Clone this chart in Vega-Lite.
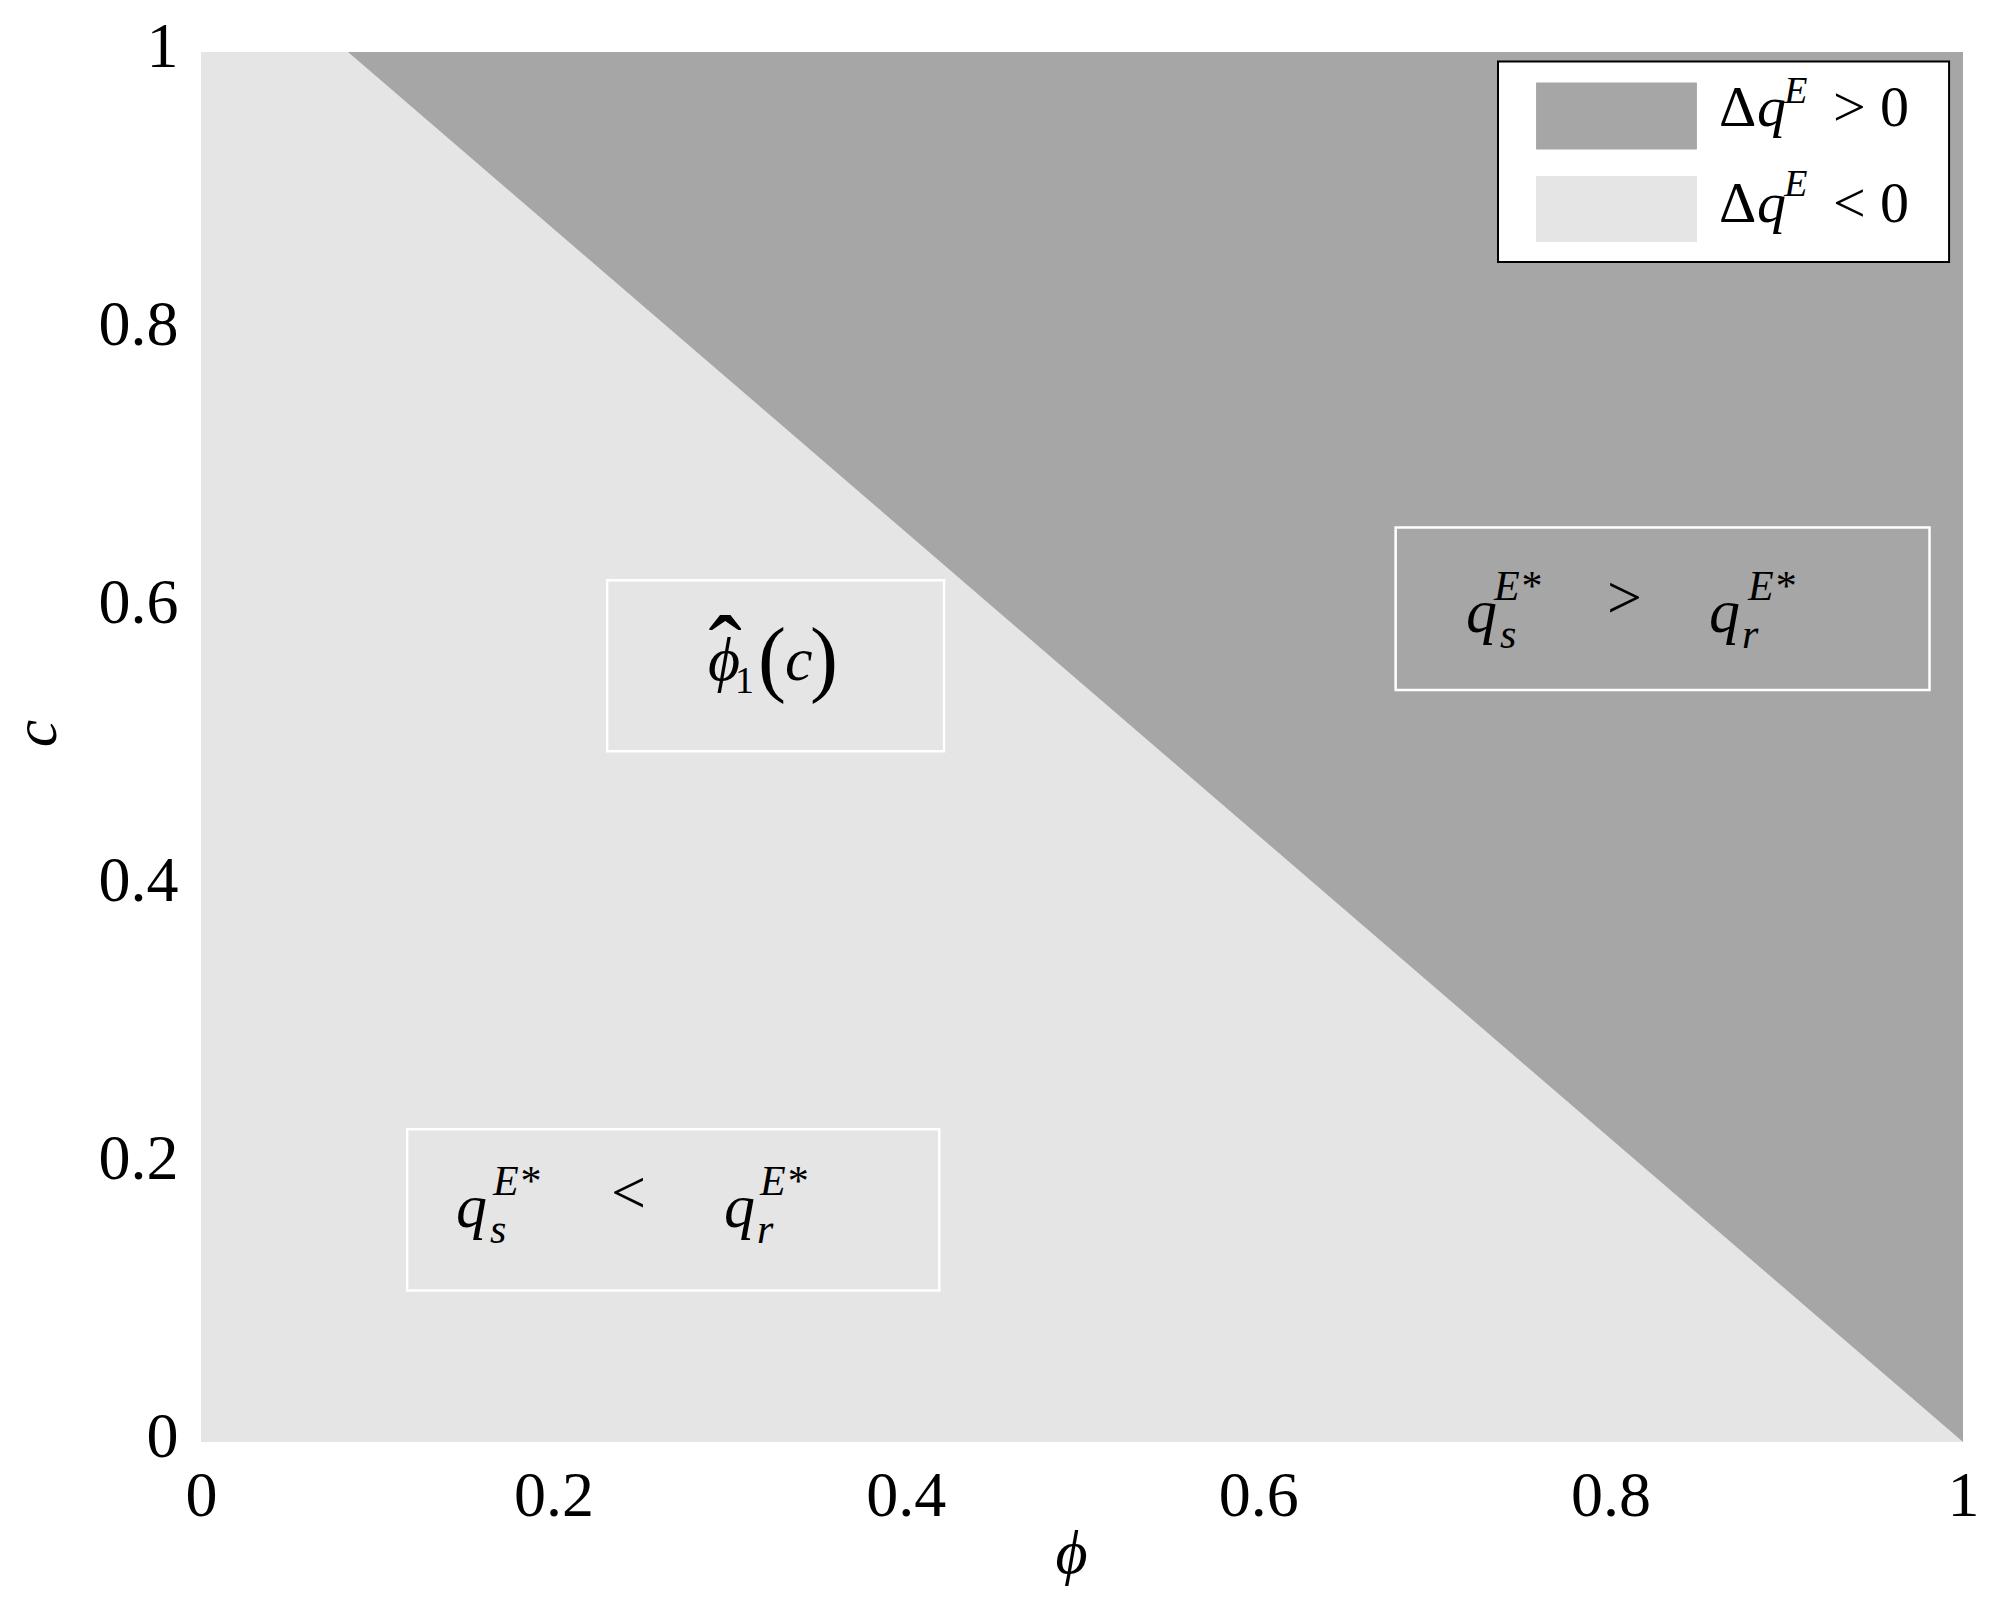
{
  "$schema": "https://vega.github.io/schema/vega-lite/v6.json",
  "width": 1762,
  "height": 1390,
  "autosize": {"type": "none"},
  "padding": {"left": 201, "top": 52, "right": 37, "bottom": 165},
  "background": "white",
  "config": {
    "view": {"stroke": null},
    "axis": {
      "grid": false, "domain": false, "ticks": false, "tickSize": 0,
      "labelFont": "Times New Roman, Liberation Serif, serif", "labelFontSize": 64, "labelColor": "black",
      "labelFlush": false, "labelOverlap": false,
      "titleFont": "Times New Roman, Liberation Serif, serif", "titleFontSize": 62, "titleFontStyle": "italic",
      "titleFontWeight": "normal", "titleColor": "black"
    },
    "text": {"font": "Times New Roman, Liberation Serif, serif", "color": "black", "align": "left", "baseline": "alphabetic"}
  },
  "datasets": {
    "bound": [{"phi": 0, "c": 1}, {"phi": 0.0834, "c": 1}, {"phi": 1, "c": 0}],
    "boxes": [
      {"x1": 0.2305, "x2": 0.4217, "y1": 0.497, "y2": 0.62},
      {"x1": 0.678, "x2": 0.981, "y1": 0.541, "y2": 0.658},
      {"x1": 0.117, "x2": 0.419, "y1": 0.109, "y2": 0.225}
    ],
    "bigItalic": [
      {"phi": 0.7179, "c": 0.5827, "t": "q"},
      {"phi": 0.8558, "c": 0.5827, "t": "q"},
      {"phi": 0.1447, "c": 0.1547, "t": "q"},
      {"phi": 0.2968, "c": 0.1547, "t": "q"},
      {"phi": 0.2877, "c": 0.5482, "t": "ϕ"},
      {"phi": 0.3314, "c": 0.5482, "t": "c"}
    ],
    "smallItalic": [
      {"phi": 0.7372, "c": 0.5712, "t": "s"},
      {"phi": 0.7338, "c": 0.6058, "t": "E*"},
      {"phi": 0.8746, "c": 0.5712, "t": "r"},
      {"phi": 0.878, "c": 0.6058, "t": "E*"},
      {"phi": 0.164, "c": 0.1432, "t": "s"},
      {"phi": 0.1657, "c": 0.1777, "t": "E*"},
      {"phi": 0.3156, "c": 0.1432, "t": "r"},
      {"phi": 0.3173, "c": 0.1777, "t": "E*"}
    ],
    "relation": [
      {"phi": 0.798, "c": 0.5928, "t": ">"},
      {"phi": 0.2327, "c": 0.1647, "t": "<"}
    ],
    "sub1": [{"phi": 0.3031, "c": 0.5388, "t": "1"}],
    "paren": [
      {"phi": 0.3161, "c": 0.5439, "t": "("},
      {"phi": 0.3456, "c": 0.5439, "t": ")"}
    ],
    "hat": [{"phi": 0.2975, "c": 0.5446, "t": "ˆ"}],
    "legendBox": [{"x1": 0.7361, "x2": 0.9921, "y1": 0.8489, "y2": 0.9931}],
    "swatch": [
      {"x1": 0.7577, "x2": 0.849, "y1": 0.9299, "y2": 0.978, "region": "Δq^E > 0"},
      {"x1": 0.7577, "x2": 0.849, "y1": 0.8633, "y2": 0.9108, "region": "Δq^E < 0"}
    ],
    "legUp": [
      {"phi": 0.8615, "c": 0.9468, "t": "Δ"},
      {"phi": 0.8615, "c": 0.8777, "t": "Δ"},
      {"phi": 0.9262, "c": 0.9468, "t": ">"},
      {"phi": 0.9262, "c": 0.8777, "t": "<"},
      {"phi": 0.9529, "c": 0.9468, "t": "0"},
      {"phi": 0.9529, "c": 0.8777, "t": "0"}
    ],
    "legIt": [
      {"phi": 0.8831, "c": 0.9468, "t": "q"},
      {"phi": 0.8831, "c": 0.8777, "t": "q"}
    ],
    "legSup": [
      {"phi": 0.8985, "c": 0.9633, "t": "E"},
      {"phi": 0.8985, "c": 0.8964, "t": "E"}
    ]
  },
  "layer": [
    {
      "data": {"name": "bound"},
      "mark": {"type": "area", "color": "#e5e5e5"},
      "encoding": {
        "x": {"field": "phi", "type": "quantitative",
          "scale": {"domain": [0, 1], "nice": false, "zero": false},
          "axis": {"values": [0, 0.2, 0.4, 0.6, 0.8, 1], "format": "~g",
            "labelPadding": 73, "labelBaseline": "alphabetic",
            "title": "ϕ", "titleX": 870, "titleY": 130, "titleBaseline": "alphabetic", "titleAlign": "center"}},
        "y": {"field": "c", "type": "quantitative",
          "scale": {"domain": [0, 1], "nice": false, "zero": false},
          "axis": {"values": [0, 0.2, 0.4, 0.6, 0.8, 1], "format": "~g",
            "labelPadding": 23, "labelBaseline": "middle", "labelOffset": -5,
            "title": "c", "titleAngle": -90, "titleX": -146, "titleY": 681, "titleBaseline": "alphabetic", "titleAlign": "center"}},
        "y2": {"datum": 0}
      }
    },
    {
      "data": {"name": "bound"},
      "transform": [{"filter": "datum.phi >= 0.08"}],
      "mark": {"type": "area", "color": "#a6a6a6"},
      "encoding": {
        "x": {"field": "phi", "type": "quantitative"},
        "y": {"field": "c", "type": "quantitative"},
        "y2": {"datum": 1}
      }
    },
    {
      "data": {"name": "boxes"},
      "mark": {"type": "rect", "fillOpacity": 0, "stroke": "#ffffff", "strokeWidth": 2.5},
      "encoding": {
        "x": {"field": "x1", "type": "quantitative"}, "x2": {"field": "x2"},
        "y": {"field": "y1", "type": "quantitative"}, "y2": {"field": "y2"}
      }
    },
    {
      "data": {"name": "bigItalic"},
      "mark": {"type": "text", "fontSize": 62, "fontStyle": "italic"},
      "encoding": {"x": {"field": "phi", "type": "quantitative"}, "y": {"field": "c", "type": "quantitative"}, "text": {"field": "t"}}
    },
    {
      "data": {"name": "smallItalic"},
      "mark": {"type": "text", "fontSize": 42, "fontStyle": "italic"},
      "encoding": {"x": {"field": "phi", "type": "quantitative"}, "y": {"field": "c", "type": "quantitative"}, "text": {"field": "t"}}
    },
    {
      "data": {"name": "relation"},
      "mark": {"type": "text", "fontSize": 62},
      "encoding": {"x": {"field": "phi", "type": "quantitative"}, "y": {"field": "c", "type": "quantitative"}, "text": {"field": "t"}}
    },
    {
      "data": {"name": "sub1"},
      "mark": {"type": "text", "fontSize": 38},
      "encoding": {"x": {"field": "phi", "type": "quantitative"}, "y": {"field": "c", "type": "quantitative"}, "text": {"field": "t"}}
    },
    {
      "data": {"name": "paren"},
      "mark": {"type": "text", "fontSize": 84},
      "encoding": {"x": {"field": "phi", "type": "quantitative"}, "y": {"field": "c", "type": "quantitative"}, "text": {"field": "t"}}
    },
    {
      "data": {"name": "hat"},
      "mark": {"type": "text", "fontSize": 100, "align": "center"},
      "encoding": {"x": {"field": "phi", "type": "quantitative"}, "y": {"field": "c", "type": "quantitative"}, "text": {"field": "t"}}
    },
    {
      "data": {"name": "legendBox"},
      "mark": {"type": "rect", "fill": "white", "stroke": "black", "strokeWidth": 2},
      "encoding": {
        "x": {"field": "x1", "type": "quantitative"}, "x2": {"field": "x2"},
        "y": {"field": "y1", "type": "quantitative"}, "y2": {"field": "y2"}
      }
    },
    {
      "data": {"name": "swatch"},
      "mark": {"type": "rect"},
      "encoding": {
        "x": {"field": "x1", "type": "quantitative"}, "x2": {"field": "x2"},
        "y": {"field": "y1", "type": "quantitative"}, "y2": {"field": "y2"},
        "color": {"field": "region", "type": "nominal",
          "scale": {"domain": ["Δq^E > 0", "Δq^E < 0"], "range": ["#a6a6a6", "#e5e5e5"]},
          "legend": null}
      }
    },
    {
      "data": {"name": "legUp"},
      "mark": {"type": "text", "fontSize": 58},
      "encoding": {"x": {"field": "phi", "type": "quantitative"}, "y": {"field": "c", "type": "quantitative"}, "text": {"field": "t"}}
    },
    {
      "data": {"name": "legIt"},
      "mark": {"type": "text", "fontSize": 58, "fontStyle": "italic"},
      "encoding": {"x": {"field": "phi", "type": "quantitative"}, "y": {"field": "c", "type": "quantitative"}, "text": {"field": "t"}}
    },
    {
      "data": {"name": "legSup"},
      "mark": {"type": "text", "fontSize": 38, "fontStyle": "italic"},
      "encoding": {"x": {"field": "phi", "type": "quantitative"}, "y": {"field": "c", "type": "quantitative"}, "text": {"field": "t"}}
    }
  ]
}
